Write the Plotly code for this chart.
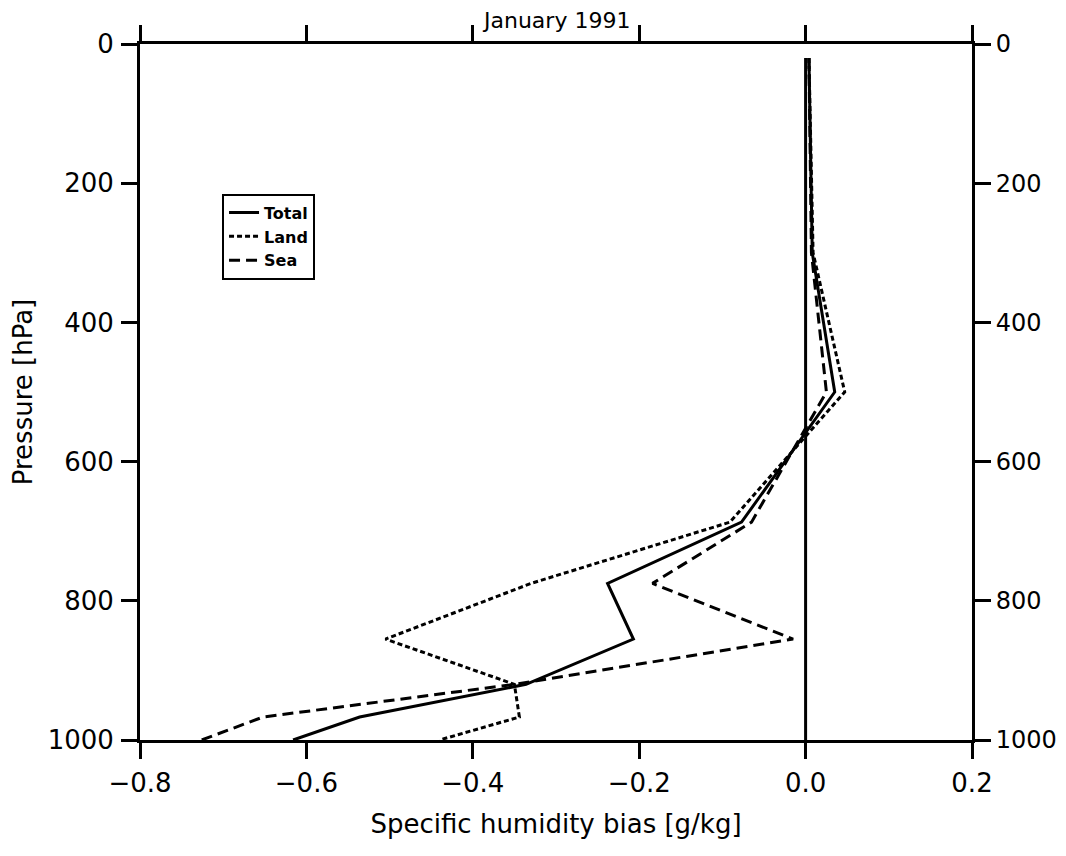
import plotly.graph_objects as go

# Data (pressure levels in hPa, bias in g/kg)
pressure = [20, 300, 500, 687, 775, 855, 920, 967, 1000]
total = [0.004, 0.008, 0.035, -0.077, -0.238, -0.207, -0.336, -0.536, -0.616]
land = [0.004, 0.009, 0.047, -0.091, -0.330, -0.505, -0.350, -0.344, -0.440]
sea = [0.004, 0.007, 0.025, -0.065, -0.184, -0.015, -0.350, -0.652, -0.726]

x_ticks = [-0.8, -0.6, -0.4, -0.2, 0.0, 0.2]
x_ticktext = ["\u22120.8", "\u22120.6", "\u22120.4", "\u22120.2", "0.0", "0.2"]
y_ticks = [0, 200, 400, 600, 800, 1000]
zero_line_top = 20

FONT = "DejaVu Sans"

fig = go.Figure()
fig.add_trace(go.Scatter(x=total, y=pressure, mode="lines", name="Total",
                         line=dict(color="black", width=3)))
fig.add_trace(go.Scatter(x=land, y=pressure, mode="lines", name="Land",
                         line=dict(color="black", width=3, dash="5px,3px")))
fig.add_trace(go.Scatter(x=sea, y=pressure, mode="lines", name="Sea",
                         line=dict(color="black", width=3, dash="11px,6px")))
# invisible trace to activate right axis
fig.add_trace(go.Scatter(x=[0], y=[0], yaxis="y2", mode="markers",
                         marker=dict(opacity=0), showlegend=False, hoverinfo="skip"))

fig.add_shape(type="line", xref="x", yref="y", x0=0, x1=0, y0=zero_line_top, y1=1000,
              line=dict(color="black", width=3))

axis_common = dict(showline=True, linecolor="black", linewidth=3, ticks="outside",
                   ticklen=16, tickwidth=2.5, tickcolor="black", showgrid=False,
                   zeroline=False, automargin=False)

fig.update_layout(
    width=1058, height=848,
    paper_bgcolor="white", plot_bgcolor="white",
    margin=dict(l=132, r=94, t=36, b=116, autoexpand=False),
    showlegend=True,
    legend=dict(x=0.0986, y=0.785, xanchor="left", yanchor="top",
                bordercolor="black", borderwidth=2, bgcolor="white",
                font=dict(family=FONT, size=16, color="black", weight="bold"),
                tracegroupgap=0, itemwidth=30),
    xaxis=dict(range=[-0.8, 0.2], tickvals=x_ticks, ticktext=x_ticktext,
               mirror="ticks", ticklabelstandoff=2,
               tickfont=dict(family=FONT, size=26, color="black"),
               title=dict(text="Specific humidity bias [g/kg]", standoff=18,
                          font=dict(family=FONT, size=26, color="black")),
               **axis_common),
    yaxis=dict(range=[1000, 0], tickvals=y_ticks, mirror="ticks", ticklabelstandoff=2,
               tickfont=dict(family=FONT, size=26, color="black"),
               title=dict(text="Pressure [hPa]", standoff=14,
                          font=dict(family=FONT, size=26, color="black")),
               **axis_common),
    yaxis2=dict(range=[1000, 0], tickvals=y_ticks, overlaying="y", side="right",
                ticklabelstandoff=0,
                tickfont=dict(family=FONT, size=24, color="black"),
                **axis_common),
    annotations=[dict(text="January 1991", xref="paper", yref="paper",
                      x=0.5, y=1.034, xanchor="center", yanchor="middle",
                      showarrow=False, font=dict(family=FONT, size=22, color="black"))],
)

fig.write_html("out.html")
